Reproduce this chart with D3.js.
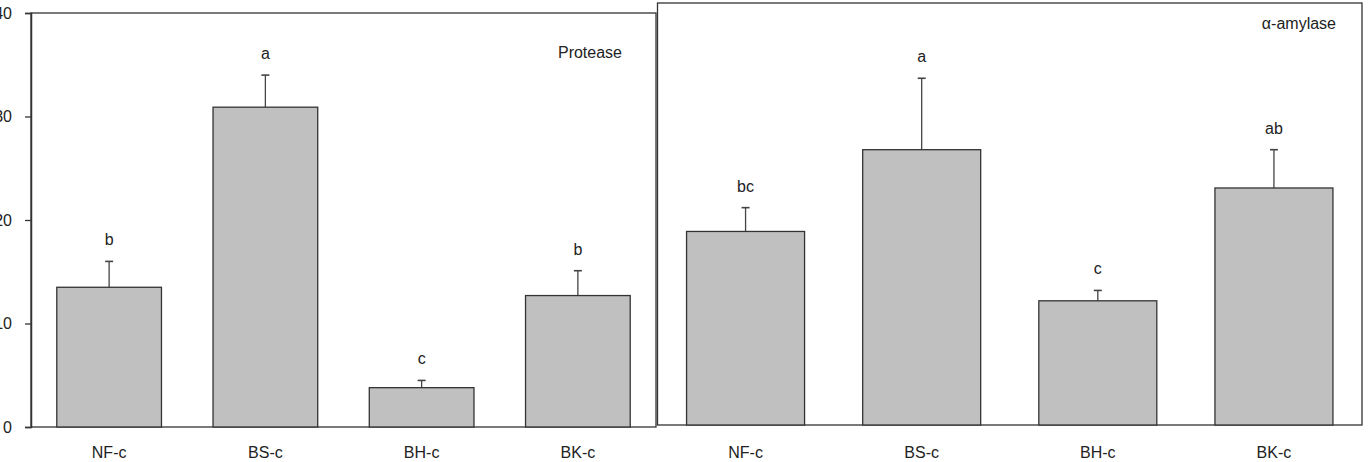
<!DOCTYPE html>
<html>
<head>
<meta charset="utf-8">
<script src="https://cdn.jsdelivr.net/npm/d3@7/dist/d3.min.js"></script>
<style>
  body { margin: 0; background: #fff; }
  text { font-family: "Liberation Sans", Arial, sans-serif; fill: #222; }
</style>
</head>
<body>
<script>
// groups and data
var categories = ["NF-c", "BS-c", "BH-c", "BK-c"];
var proteaseVals = [13.5, 30.9, 3.8, 12.7];
var proteaseErr = [2.5, 3.1, 0.7, 2.4];
var proteaseLetters = ["b", "a", "c", "b"];
var amylaseVals = [18.7, 26.6, 12.0, 22.9];
var amylaseErr = [2.3, 6.9, 1.0, 3.7];
var amylaseLetters = ["bc", "a", "c", "ab"];
var yTicks = [0, 10, 20, 30, 40];

var width = 1371, height = 462;
var fs = "16px";
var svg = d3.select("body").append("svg")
    .attr("width", width)
    .attr("height", height);

// one panel = frame + bars + error bars + letters
function panel(opt) {
    var x = d3.scaleBand()
        .domain(categories)
        .range([opt.left, opt.right])
        .paddingInner(0.33)
        .paddingOuter(0.165);
    var y = d3.scaleLinear()
        .domain([0, 40])
        .range([opt.bottom, opt.bottom - 414]);

    var g = svg.append("g");

    // frame
    g.append("rect")
        .attr("x", opt.left)
        .attr("y", opt.top)
        .attr("width", opt.right - opt.left)
        .attr("height", opt.bottom - opt.top)
        .attr("fill", "none")
        .attr("stroke", "#333")
        .attr("stroke-width", 1.3);

    // error bars (behind bars)
    var eb = g.selectAll(".err").data(opt.vals).enter().append("g").attr("class", "err");
    eb.append("line")
        .attr("x1", function(d, i) { return x(categories[i]) + x.bandwidth() / 2; })
        .attr("x2", function(d, i) { return x(categories[i]) + x.bandwidth() / 2; })
        .attr("y1", function(d) { return y(d); })
        .attr("y2", function(d, i) { return y(d + opt.err[i]); })
        .attr("stroke", "#444")
        .attr("stroke-width", 1.3);
    eb.append("line")
        .attr("x1", function(d, i) { return x(categories[i]) + x.bandwidth() / 2 - 4; })
        .attr("x2", function(d, i) { return x(categories[i]) + x.bandwidth() / 2 + 4; })
        .attr("y1", function(d, i) { return y(d + opt.err[i]); })
        .attr("y2", function(d, i) { return y(d + opt.err[i]); })
        .attr("stroke", "#444")
        .attr("stroke-width", 1.6);

    g.selectAll(".bar").data(opt.vals).enter().append("rect")
        .attr("class", "bar")
        .attr("x", function(d, i) { return x(categories[i]); })
        .attr("y", function(d) { return y(d); })
        .attr("width", x.bandwidth())
        .attr("height", function(d) { return y(0) - y(d); })
        .attr("fill", "#c0c0c0")
        .attr("stroke", "#333")
        .attr("stroke-width", 1.3);

    g.selectAll(".letter").data(opt.vals).enter().append("text")
        .attr("class", "letter")
        .attr("x", function(d, i) { return x(categories[i]) + x.bandwidth() / 2; })
        .attr("y", function(d, i) { return y(d + opt.err[i]) - 16; })
        .attr("text-anchor", "middle")
        .style("font-size", fs)
        .text(function(d, i) { return opt.letters[i]; });

    // category labels
    g.selectAll(".cat").data(categories).enter().append("text")
        .attr("class", "cat")
        .attr("x", function(d) { return x(d) + x.bandwidth() / 2; })
        .attr("y", 458)
        .attr("text-anchor", "middle")
        .style("font-size", fs)
        .text(function(d) { return d; });

    g.append("text")
        .attr("x", opt.titleX)
        .attr("y", opt.titleY)
        .attr("text-anchor", "end")
        .style("font-size", fs)
        .text(opt.title);

    return y;
}

var yL = panel({left: 31, right: 656, top: 13, bottom: 427,
    vals: proteaseVals, err: proteaseErr, letters: proteaseLetters,
    title: "Protease", titleX: 622, titleY: 58});

panel({left: 657.5, right: 1362, top: 3, bottom: 425,
    vals: amylaseVals, err: amylaseErr, letters: amylaseLetters,
    title: "\u03b1-amylase", titleX: 1336, titleY: 29});

// y axis on the left panel only
var yAxis = d3.axisLeft(yL).tickValues(yTicks).tickSize(6).tickPadding(13);
var ax = svg.append("g")
    .attr("transform", "translate(31,0)")
    .call(yAxis);
ax.select(".domain").attr("stroke", "#333").attr("stroke-width", 1.5);
ax.selectAll(".tick line").attr("stroke", "#333").attr("stroke-width", 1.3);
ax.selectAll(".tick text")
    .style("font-size", fs)
    .style("font-family", "Liberation Sans, Arial, sans-serif")
    .attr("fill", "#222");
</script>
</body>
</html>
